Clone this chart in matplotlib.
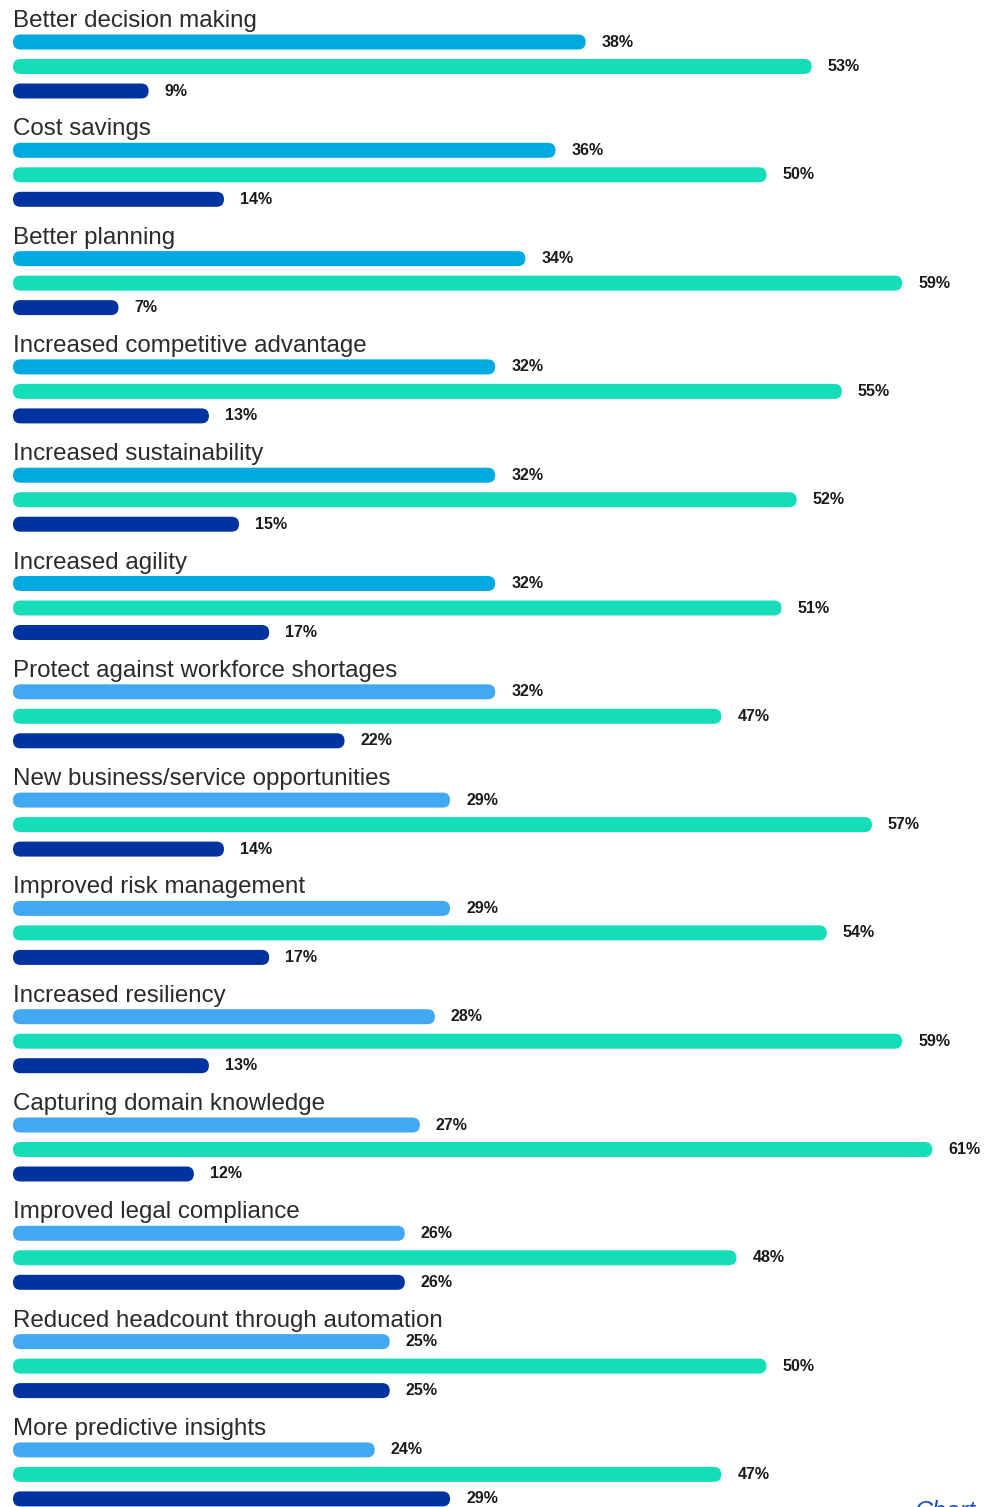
import matplotlib
matplotlib.use("Agg")
import matplotlib.pyplot as plt
from matplotlib.patches import FancyBboxPatch

plt.rcParams['font.family'] = ['Liberation Sans', 'DejaVu Sans']

categories = [
    "Better decision making",
    "Cost savings",
    "Better planning",
    "Increased competitive advantage",
    "Increased sustainability",
    "Increased agility",
    "Protect against workforce shortages",
    "New business/service opportunities",
    "Improved risk management",
    "Increased resiliency",
    "Capturing domain knowledge",
    "Improved legal compliance",
    "Reduced headcount through automation",
    "More predictive insights",
]
series_a = [38, 36, 34, 32, 32, 32, 32, 29, 29, 28, 27, 26, 25, 24]
series_b = [53, 50, 59, 55, 52, 51, 47, 57, 54, 59, 61, 48, 50, 47]
series_c = [9, 14, 7, 13, 15, 17, 22, 14, 17, 13, 12, 26, 25, 29]

# first six groups use a slightly different blue for the first bar
color_a1 = "#00A9DF"
color_a2 = "#42A8F2"
color_b = "#14DDB8"
color_c = "#0033A0"

W, H = 994, 1507
px_x = 15.07      # pixels per percent
px_y = 108.3      # pixels per group
x0_px, y0_px = 13, 42

fig = plt.figure(figsize=(W / 100, H / 100), dpi=100)
ax = fig.add_axes([0, 0, 1, 1])
ax.set_xlim(-x0_px / px_x, (W - x0_px) / px_x)
ax.set_ylim((H - y0_px) / px_y, -y0_px / px_y)
ax.axis("off")

bar_h = 15 / px_y
offsets = [0, 24.5 / px_y, 49 / px_y]
aspect = px_x / px_y
rad = 7.5 / px_x


def rounded_bar(y, v, color):
    p = FancyBboxPatch((0, y - bar_h / 2), v, bar_h,
                       boxstyle="round,pad=0,rounding_size=%f" % rad,
                       mutation_aspect=aspect, fc=color, ec="none")
    ax.add_patch(p)
    ax.text(v + 16 / px_x, y, "%d%%" % v, fontsize=11.5, fontweight="bold",
            color="#1a1a1a", va="center", ha="left")


for i, cat in enumerate(categories):
    ax.text(0, i - 21 / px_y, cat, fontsize=17.4, color="#2b2b2b",
            va="center", ha="left")
    ca = color_a1 if i < 6 else color_a2
    rounded_bar(i + offsets[0], series_a[i], ca)
    rounded_bar(i + offsets[1], series_b[i], color_b)
    rounded_bar(i + offsets[2], series_c[i], color_c)

# caption that is cut off at the bottom edge in the original
fig.text(915 / W, 1 - 1500 / H, "Chart", fontsize=18, color="#1f4fbf",
         style="italic", va="top", ha="left")

fig.savefig("out.png", dpi=100)
